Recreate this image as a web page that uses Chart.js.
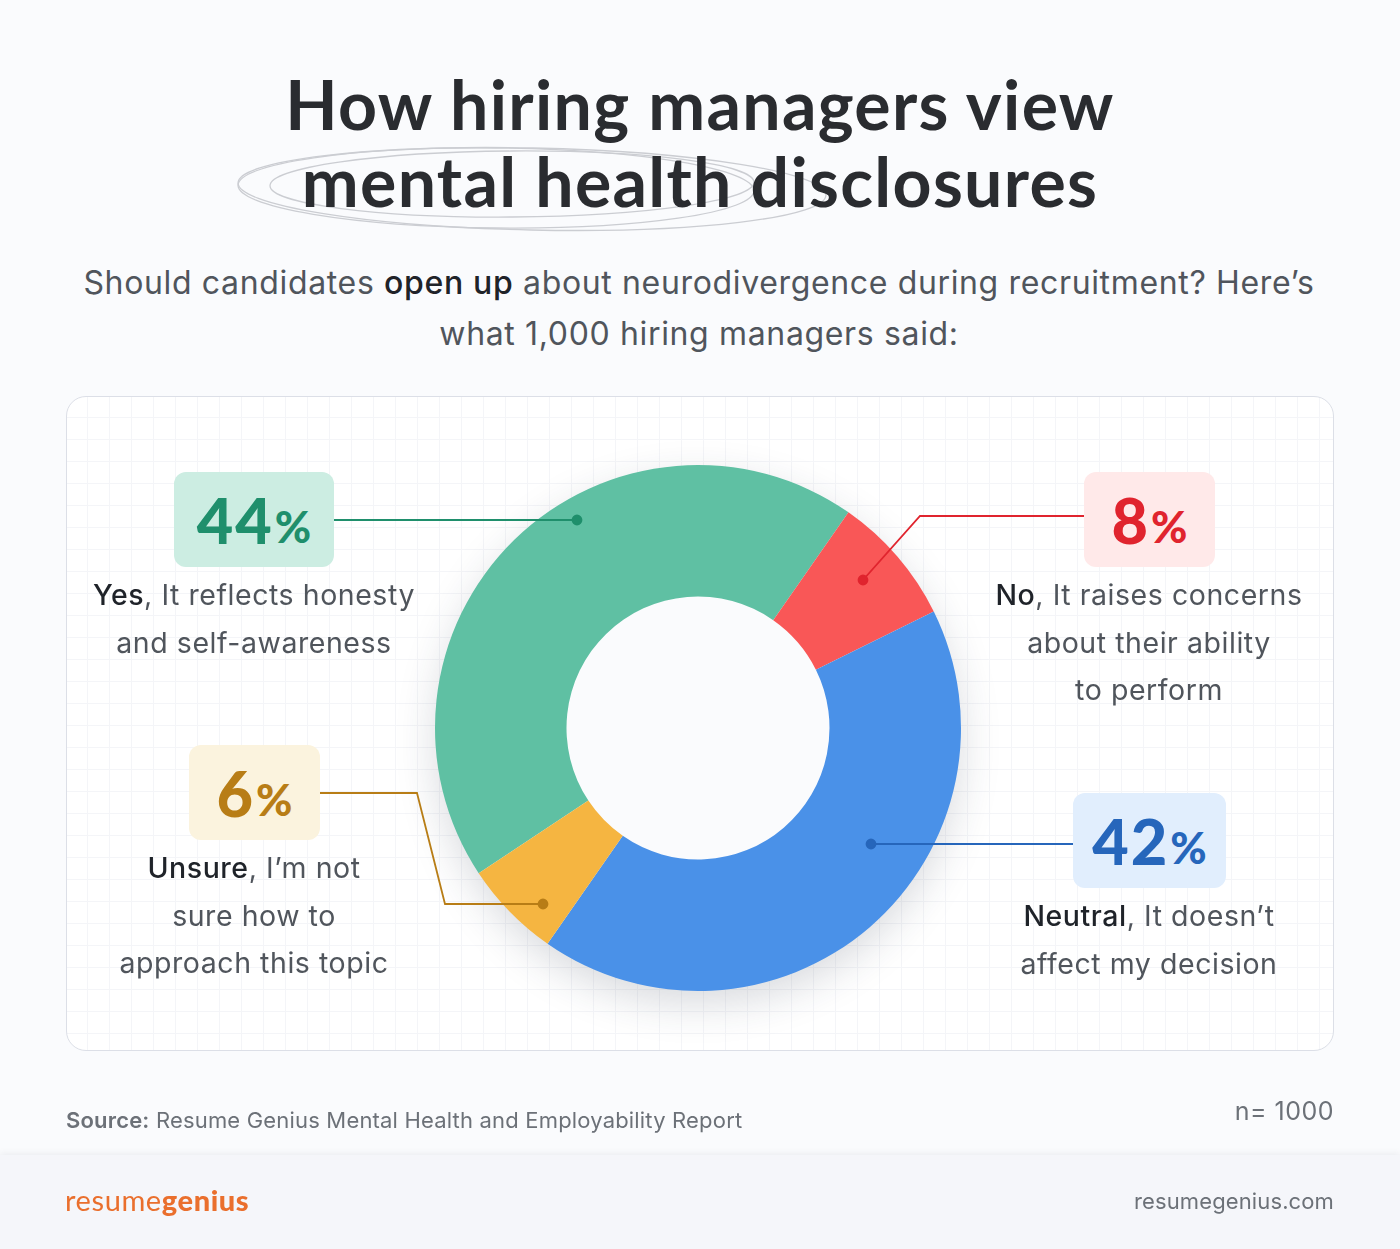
<!DOCTYPE html>
<html>
<head>
<meta charset="utf-8">
<title>How hiring managers view mental health disclosures</title>
<script src="https://cdn.jsdelivr.net/npm/chart.js@4"></script>
<style>
  html, body { margin: 0; padding: 0; }
  body { width: 1400px; height: 1249px; position: relative; overflow: hidden; background: #fafbfd; font-family: Inter, sans-serif; color: #50555c; }
  .abs { position: absolute; }
  #title { left: 0; width: 1400px; top: 65px; text-align: center; font: 700 68px/77px Lato, sans-serif; color: #2a2c30; letter-spacing: 1.3px; }
  #sub { left: -1px; width: 1400px; top: 257px; text-align: center; font-size: 32px; line-height: 51px; letter-spacing: 0.65px; }
  #sub b, .lab b { font-weight: 500; color: #1f2329; }
  #card { left: 66px; top: 396px; width: 1266px; height: 653px; border: 1.5px solid #dcdfe7; border-radius: 20px;
    background-color: #fff;
    background-image: linear-gradient(#f4f5f8 1px, transparent 1px), linear-gradient(90deg, #f4f5f8 1px, transparent 1px);
    background-size: 22px 22px; background-position: 20px 20px; }
  #donut { left: 368px; top: 398px; }
  #overlay { left: 0; top: 0; }
  .box { height: 95px; border-radius: 12px; display: flex; align-items: center; justify-content: center; font: 900 63px/1 Lato, sans-serif; letter-spacing: 2px; }
  .box span { font-size: 44px; margin-left: 1px; margin-top: 12px; letter-spacing: 0; }
  .lab { font-size: 28.5px; line-height: 47.5px; text-align: center; letter-spacing: 0.55px; white-space: nowrap; }
  #src { left: 66px; top: 1107px; font-size: 22px; letter-spacing: 0.18px; color: #6c7178; }
  #src b { font-weight: 600; }
  #n { right: 66px; top: 1096px; font-size: 25px; color: #6c7178; letter-spacing: 0.5px; }
  #foot { left: 0; top: 1155px; width: 1400px; height: 94px; background: #f5f6fa; box-shadow: 0 -1px 7px rgba(60,70,90,.09); }
  #logo { left: 65px; top: 1184px; font: 400 29px/32px Lato, sans-serif; color: #ea6f2d; letter-spacing: 0.6px; }
  #logo b { font-weight: 900; }
  #site { right: 66px; top: 1188px; font-size: 22px; color: #6c7178; letter-spacing: 0.12px; }
</style>
</head>
<body>

<div id="card" class="abs"></div>

<svg class="abs" style="left:0;top:0" width="1400" height="260" fill="none" stroke="#cbcdd2" stroke-width="1.3">
  <ellipse cx="496" cy="188" rx="258" ry="40" transform="rotate(0.6 496 188)"/>
  <ellipse cx="532" cy="189" rx="294" ry="41" transform="rotate(1.2 532 189)"/>
  <ellipse cx="512" cy="184" rx="242" ry="33" transform="rotate(-0.4 512 184)"/>
</svg>

<div id="title" class="abs">How hiring managers view<br>mental health disclosures</div>
<div id="sub" class="abs">Should candidates <b>open up</b> about neurodivergence during recruitment? Here’s<br>what 1,000 hiring managers said:</div>

<canvas id="donut" class="abs" width="660" height="660"></canvas>

<svg id="overlay" class="abs" width="1400" height="1249" fill="none" stroke-width="1.8">
  <g stroke="#1f8f6c"><path d="M334 520H577"/><circle cx="577" cy="520" r="4.5" fill="#1f8f6c"/></g>
  <g stroke="#e0242e"><path d="M1084 516H920L863 580"/><circle cx="863" cy="580" r="4.5" fill="#e0242e"/></g>
  <g stroke="#b87d16"><path d="M320 793H417L445 904H543"/><circle cx="543" cy="904" r="4.5" fill="#b87d16"/></g>
  <g stroke="#2666bb"><path d="M1073 844H871"/><circle cx="871" cy="844" r="4.5" fill="#2666bb"/></g>
</svg>

<div class="abs box" id="box0" style="left:174px;top:472px;width:160px;background:#ccede2;color:#1f8f6c"></div>
<div class="abs lab" style="left:54px;width:400px;top:571px"><b>Yes</b>, It reflects honesty<br>and self-awareness</div>

<div class="abs box" id="box1" style="left:1084px;top:472px;width:131px;background:#ffe9e9;color:#e0242e"></div>
<div class="abs lab" style="left:949px;width:400px;top:571px"><b>No</b>, It raises concerns<br>about their ability<br>to perform</div>

<div class="abs box" id="box2" style="left:1073px;top:793px;width:153px;background:#e1eefd;color:#2666bb"></div>
<div class="abs lab" style="left:949px;width:400px;top:892px"><b>Neutral</b>, It doesn’t<br>affect my decision</div>

<div class="abs box" id="box3" style="left:189px;top:745px;width:131px;background:#fbf3de;color:#b87d16"></div>
<div class="abs lab" style="left:54px;width:400px;top:844px"><b>Unsure</b>, I’m not<br>sure how to<br>approach this topic</div>

<div id="src" class="abs"><b>Source:</b> Resume Genius Mental Health and Employability Report</div>
<div id="n" class="abs">n= 1000</div>
<div id="foot" class="abs"></div>
<div id="logo" class="abs">resume<b>genius</b></div>
<div id="site" class="abs">resumegenius.com</div>

<script>
// data
const answers = ["Yes", "No", "Neutral", "Unsure"];
const shares = [44, 8, 42, 6];
const sliceColors = ["#5fc0a3", "#f95757", "#4a91e8", "#f5b541"];

// percent badges
shares.forEach((v, i) => {
    document.getElementById("box" + i).innerHTML = v + "<span>%</span>";
});

// soft shadow under the ring, and the hole in page colour
const ringShadow = {
    id: "ringShadow",
    beforeDatasetsDraw(chart) {
        const arc = chart.getDatasetMeta(0).data[0];
        const ctx = chart.ctx;
        ctx.save();
        ctx.shadowColor = "rgba(40,50,70,0.18)";
        ctx.shadowBlur = 42;
        ctx.shadowOffsetY = 14;
        ctx.fillStyle = "#fff";
        ctx.beginPath();
        ctx.arc(arc.x, arc.y, arc.outerRadius - 1, 0, Math.PI * 2);
        ctx.fill();
        ctx.shadowColor = "transparent";
        ctx.fillStyle = "#fafbfd";
        ctx.beginPath();
        ctx.arc(arc.x, arc.y, arc.innerRadius + 1, 0, Math.PI * 2);
        ctx.fill();
        ctx.restore();
    }
};

new Chart(document.getElementById("donut"), {
    type: "doughnut",
    data: {
        labels: answers,
        datasets: [{
            data: shares,
            backgroundColor: sliceColors,
            borderWidth: 0
        }]
    },
    options: {
        responsive: false,
        animation: false,
        rotation: -123.5,
        cutout: "50%",
        layout: { padding: 67 },
        plugins: {
            legend: { display: false },
            tooltip: { enabled: false }
        }
    },
    plugins: [ringShadow]
});
</script>
</body>
</html>
